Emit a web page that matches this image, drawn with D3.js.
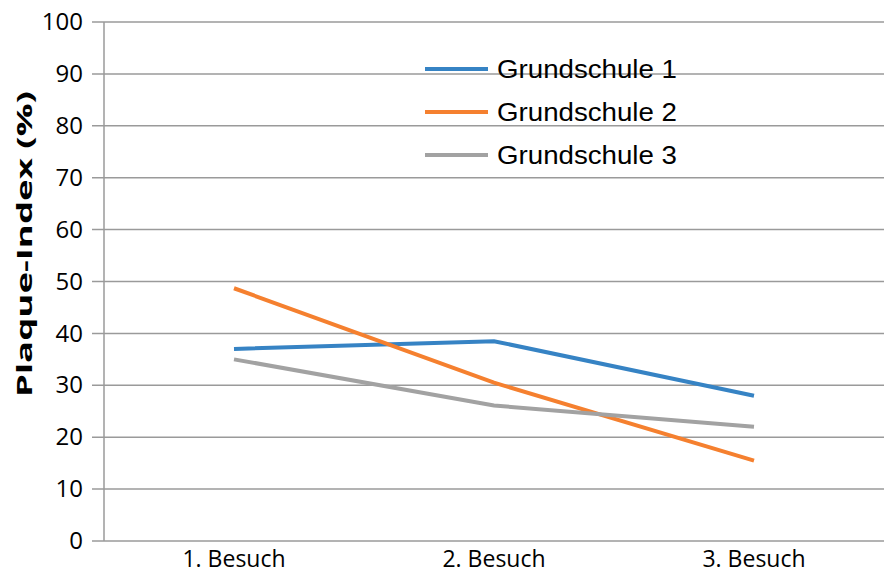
<!DOCTYPE html>
<html>
<head>
<meta charset="utf-8">
<script src="https://cdnjs.cloudflare.com/ajax/libs/d3/7.8.5/d3.min.js"></script>
<style>
  body { margin: 0; background: #fff; }
</style>
</head>
<body>
<div id="chart"></div>
<script>
var margins = {top: 22, right: 2, bottom: 37, left: 104},
    width = 887 - margins.left - margins.right,
    height = 578 - margins.top - margins.bottom;

const visits = ['1. Besuch', '2. Besuch', '3. Besuch'];
const schoolNames = ['Grundschule 1', 'Grundschule 2', 'Grundschule 3'];
const school1 = [37.0, 38.5, 28.0];
const school2 = [48.7, 30.5, 15.5];
const school3 = [35.0, 26.1, 22.0];
const yTicks = [0, 10, 20, 30, 40, 50, 60, 70, 80, 90, 100];

const colors = ['#3683c4', '#f5802f', '#a2a2a2'];

const series = [school1, school2, school3].map(function (vals, i) {
    return { name: schoolNames[i], color: colors[i],
             values: vals.map(function (v, j) { return { visit: visits[j], value: v }; }) };
});

var svg = d3.select("#chart").append("svg")
    .attr("width", width + margins.left + margins.right)
    .attr("height", height + margins.top + margins.bottom)
    .append("g")
    .attr("transform", "translate(" + margins.left + "," + margins.top + ")");

const x = d3.scaleBand()
    .domain(visits)
    .range([0, width - 1]);

const y = d3.scaleLinear()
    .domain([0, 100])
    .range([height, 0]);

// horizontal gridlines + tick marks extending left
svg.selectAll("line.grid")
    .data(yTicks)
    .enter().append("line")
    .attr("class", "grid")
    .attr("x1", -12)
    .attr("x2", width - 1)
    .attr("y1", function (d) { return y(d); })
    .attr("y2", function (d) { return y(d); })
    .style("stroke", "#9a9a9a")
    .style("stroke-width", 1.5);

// y axis line
svg.append("line")
    .attr("x1", 0).attr("x2", 0)
    .attr("y1", y(100)).attr("y2", y(0))
    .style("stroke", "#9a9a9a")
    .style("stroke-width", 1.5);

const yAxis = d3.axisLeft(y).tickValues(yTicks).tickSize(0).tickPadding(21);
svg.append("g")
    .attr("class", "y axis")
    .call(yAxis)
    .call(g => g.select(".domain").remove())
    .selectAll("text")
    .style("font-family", "'Open Sans', sans-serif")
    .style("font-size", "24px")
    .style("fill", "#000");

const xAxis = d3.axisBottom(x).tickSize(0).tickPadding(10);
svg.append("g")
    .attr("class", "x axis")
    .attr("transform", "translate(0," + height + ")")
    .call(xAxis)
    .call(g => g.select(".domain").remove())
    .selectAll("text")
    .style("font-family", "'Open Sans', sans-serif")
    .style("font-size", "23px")
    .style("fill", "#000");

// y axis title
svg.append("text")
    .attr("transform", "translate(" + (-72) + "," + (y(0) - 297) + ") rotate(-90)")
    .style("text-anchor", "middle")
    .style("font-family", "'Open Sans', sans-serif")
    .style("font-weight", "bold")
    .style("font-size", "21px")
    .attr("textLength", 306)
    .attr("lengthAdjust", "spacingAndGlyphs")
    .style("fill", "#000")
    .text("Plaque-Index (%)");

const line = d3.line()
    .x(function (d) { return x(d.visit) + x.bandwidth() / 2; })
    .y(function (d) { return y(d.value); });

svg.selectAll(".series")
    .data(series)
    .enter().append("path")
    .attr("class", "series")
    .attr("d", function (d) { return line(d.values); })
    .style("fill", "none")
    .style("stroke", function (d) { return d.color; })
    .style("stroke-width", 4);

// legend
const legend = svg.selectAll(".legend")
    .data(series)
    .enter().append("g")
    .attr("class", "legend")
    .attr("transform", function (d, i) { return "translate(" + 321 + "," + (47 + i * 43) + ")"; });

legend.append("line")
    .attr("x1", 0).attr("x2", 63)
    .attr("y1", 0).attr("y2", 0)
    .style("stroke", function (d) { return d.color; })
    .style("stroke-width", 4);

legend.append("text")
    .attr("x", 72)
    .attr("y", 9)
    .style("font-family", "'Liberation Sans', Arial, sans-serif")
    .style("font-size", "25px")
    .attr("textLength", 180)
    .attr("lengthAdjust", "spacingAndGlyphs")
    .style("fill", "#000")
    .text(function (d) { return d.name; });
</script>
</body>
</html>
